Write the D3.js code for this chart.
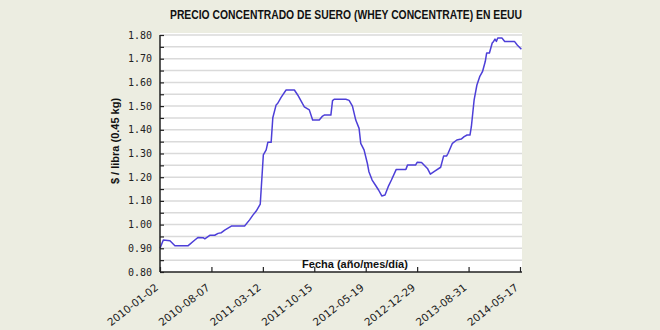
<!DOCTYPE html>
<html><head><meta charset="utf-8">
<script src="https://cdn.jsdelivr.net/npm/d3@7"></script>
<style>
body{margin:0;background:#ecede1;}
svg{display:block;}
</style></head>
<body>
<svg id="c" width="660" height="330"></svg>
<script>
const title = "PRECIO CONCENTRADO DE SUERO (WHEY CONCENTRATE) EN EEUU";
const yLabel = "$ / libra (0.45 kg)";
const xLabel = "Fecha (año/mes/día)";
const tickDates = ["2010-01-02","2010-08-07","2011-03-12","2011-10-15","2012-05-19","2012-12-29","2013-08-31","2014-05-17"];
const yTicks = [0.80,0.90,1.00,1.10,1.20,1.30,1.40,1.50,1.60,1.70,1.80];
const dates = ["2010-01-02","2010-01-16","2010-02-13","2010-03-06","2010-05-01","2010-05-29","2010-06-12","2010-07-03","2010-07-10","2010-07-31",
"2010-08-21","2010-09-04","2010-09-18","2010-10-02","2010-10-30","2010-12-25","2011-01-15","2011-01-29","2011-02-12","2011-03-01",
"2011-03-14","2011-03-26","2011-04-02","2011-04-16","2011-04-23","2011-05-07","2011-05-14","2011-05-28","2011-06-18","2011-07-23",
"2011-08-06","2011-08-27","2011-09-03","2011-09-24","2011-10-08","2011-11-05","2011-11-19","2011-11-26","2011-12-24","2011-12-31",
"2012-01-07","2012-02-25","2012-03-10","2012-03-24","2012-04-07","2012-04-21","2012-04-28","2012-05-12","2012-05-26","2012-06-02",
"2012-06-16","2012-06-30","2012-07-14","2012-07-28","2012-08-11","2012-08-25","2012-09-08","2012-09-29","2012-11-10","2012-11-17",
"2012-12-22","2012-12-29","2013-01-19","2013-02-16","2013-03-02","2013-03-23","2013-04-20","2013-05-04","2013-05-18","2013-05-25",
"2013-06-15","2013-07-06","2013-07-27","2013-08-10","2013-08-24","2013-09-07","2013-09-14","2013-09-28","2013-10-12","2013-10-26",
"2013-11-09","2013-11-23","2013-11-30","2013-12-14","2013-12-28","2014-01-04","2014-01-11","2014-01-18","2014-01-25","2014-02-15",
"2014-03-01","2014-04-19","2014-05-03","2014-05-24"];
const prices = [0.900,0.935,0.932,0.911,0.911,0.935,0.946,0.945,0.940,0.955,
0.955,0.963,0.966,0.977,0.994,0.994,1.020,1.040,1.057,1.086,
1.294,1.315,1.347,1.347,1.451,1.505,1.512,1.537,1.568,1.568,
1.547,1.509,1.497,1.484,1.441,1.441,1.458,1.462,1.462,1.523,
1.529,1.529,1.524,1.500,1.441,1.406,1.343,1.315,1.259,1.223,
1.188,1.167,1.146,1.121,1.125,1.160,1.188,1.233,1.233,1.251,
1.251,1.263,1.262,1.237,1.213,1.226,1.242,1.289,1.289,1.300,
1.343,1.357,1.361,1.371,1.378,1.378,1.413,1.526,1.589,1.624,
1.645,1.688,1.724,1.724,1.766,1.773,1.783,1.773,1.787,1.787,
1.773,1.773,1.758,1.740];

const parse = d3.timeParse("%Y-%m-%d");
const svg = d3.select("#c");
const L=160, R=522, T=35, B=272;
const tickX = tickDates.map((d,i)=> L + i*(520-L)/(tickDates.length-1));
const x = d3.scaleTime().domain(tickDates.map(parse)).range(tickX);
const y = d3.scaleLinear().domain([0.80,1.80]).range([B,T]);

svg.append("rect").attr("x",L).attr("y",T-2).attr("width",R-L).attr("height",B-T+2).attr("fill","#ffffff");

// gridlines every 0.05
const grid = d3.range(0.85,1.801,0.05);
svg.append("g").selectAll("line").data(grid).join("line")
 .attr("x1",L).attr("x2",R).attr("y1",d=>y(d)).attr("y2",d=>y(d))
 .attr("stroke","#dadada").attr("stroke-width",1.5);

// line
const data = dates.map((d,i)=>({d:parse(d),v:prices[i]}));
svg.append("path").datum(data)
 .attr("d", d3.line().x(p=>x(p.d)).y(p=>y(p.v)))
 .attr("fill","none").attr("stroke","#4d3fd8").attr("stroke-width",1.5).attr("stroke-linejoin","round");

// y axis
const ya = svg.append("g").attr("transform",`translate(${L},0)`)
 .call(d3.axisRight(y).tickValues(d3.range(0.80,1.801,0.05)).tickSize(4).tickFormat(""));
ya.select(".domain").remove();
ya.selectAll("line").attr("stroke","#222").attr("stroke-width",1.2);
svg.append("g").selectAll("text").data(yTicks).join("text")
 .attr("x",L-8).attr("y",d=>y(d)+3.5).attr("text-anchor","end")
 .attr("font-family","DejaVu Sans Mono").attr("font-size",10).attr("fill","#222")
 .text(d=>d.toFixed(2));
svg.append("line").attr("x1",L).attr("x2",L).attr("y1",T).attr("y2",B).attr("stroke","#222").attr("stroke-width",1.5);

// x axis
const xa = svg.append("g").attr("transform",`translate(0,${B})`)
 .call(d3.axisTop(x).tickValues(tickDates.map(parse)).tickSize(5).tickFormat(""));
xa.select(".domain").remove();
xa.selectAll("line").attr("stroke","#222").attr("stroke-width",1.2);
svg.append("line").attr("x1",L).attr("x2",R).attr("y1",B).attr("y2",B).attr("stroke","#222").attr("stroke-width",1.5);
svg.append("g").selectAll("text").data(tickDates).join("text")
 .attr("transform",d=>`translate(${x(parse(d))-1},${B+17}) rotate(-38)`)
 .attr("text-anchor","end")
 .attr("font-family","DejaVu Sans").attr("font-size",10.5).attr("fill","#222")
 .text(d=>d);

// titles
svg.append("text").attr("x",346).attr("y",19).attr("text-anchor","middle")
 .attr("font-family","Liberation Sans").attr("font-weight","bold").attr("font-size",12)
 .attr("textLength",352).attr("lengthAdjust","spacingAndGlyphs").attr("fill","#111").text(title);
svg.append("text").attr("transform","translate(119,141) rotate(-90)").attr("text-anchor","middle")
 .attr("font-family","Liberation Sans").attr("font-weight","bold").attr("font-size",11)
 .attr("fill","#111").text(yLabel);
svg.append("text").attr("x",355).attr("y",268).attr("text-anchor","middle")
 .attr("font-family","Liberation Sans").attr("font-weight","bold").attr("font-size",11)
 .attr("fill","#111").text(xLabel);
</script>
</body></html>
